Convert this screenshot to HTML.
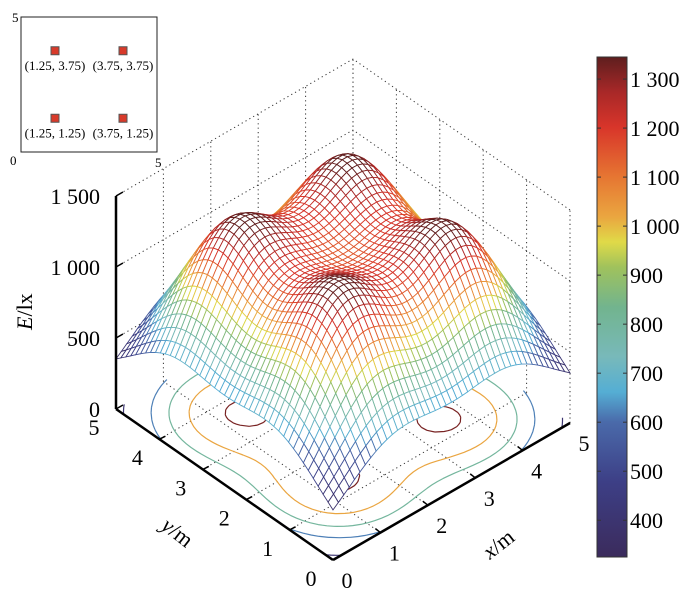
<!DOCTYPE html>
<html><head><meta charset="utf-8"><style>
html,body{margin:0;padding:0;background:#fff;}
svg{display:block;font-family:"Liberation Serif",serif;}
</style></head><body>
<svg id="chart" width="700" height="607" viewBox="0 0 700 607">
<defs>
<linearGradient id="cbgrad" x1="0" y1="1" x2="0" y2="0">
<stop offset="0" stop-color="#3b2b5c"/><stop offset="0.15" stop-color="#3d3f86"/><stop offset="0.27" stop-color="#4a6aaa"/><stop offset="0.33" stop-color="#55aed4"/><stop offset="0.40" stop-color="#78b9ba"/><stop offset="0.50" stop-color="#72b48e"/><stop offset="0.58" stop-color="#a0c25c"/><stop offset="0.63" stop-color="#e0da48"/><stop offset="0.68" stop-color="#eaa640"/><stop offset="0.76" stop-color="#e67632"/><stop offset="0.86" stop-color="#d8352a"/><stop offset="0.93" stop-color="#a82828"/><stop offset="1" stop-color="#5e1e1e"/>
</linearGradient>
</defs>
<g id="floor"></g>
<g id="contours"></g>
<g id="mesh"></g>
<g id="axes"></g>
<g font-size="13">
<rect x="21" y="17" width="136" height="135" fill="none" stroke="#222" stroke-width="1"/>
<text x="12" y="22">5</text>
<text x="10" y="165">0</text>
<text x="155" y="167">5</text>
<g id="lamps"></g>
</g>
<g>
<rect x="597" y="57" width="30" height="500" fill="url(#cbgrad)" stroke="#333" stroke-width="1"/>
<g id="cbticks" font-size="22"></g>
</g>
</svg>
<script>
// Lamp layout data (positions in m) and source parameters
const lampX = [1.25, 3.75, 1.25, 3.75];
const lampY = [3.75, 3.75, 1.25, 1.25];
const lampLabels = ["(1.25, 3.75)", "(3.75, 3.75)", "(1.25, 1.25)", "(3.75, 1.25)"];
const lampIntensity = [4181, 4181, 4181, 4181];
const lampHeight = [2.0];
const lampOrder = [1.5];
const zTicks = [0, 500, 1000, 1500];
const zTickLabels = ["0", "500", "1 000", "1 500"];
const xyTicks = [0, 1, 2, 3, 4, 5];
const cbTicks = [400, 500, 600, 700, 800, 900, 1000, 1100, 1200, 1300];
const cbTickLabels = ["400", "500", "600", "700", "800", "900", "1 000", "1 100", "1 200", "1 300"];
const contourLevels = [400, 620, 800, 1020, 1320];
const cmin = 325, cmax = 1345;
const N = 44;

const NS = "http://www.w3.org/2000/svg";
function mk(tag, attrs, parent){const e=document.createElementNS(NS,tag);for(const k in attrs)e.setAttribute(k,attrs[k]);parent.appendChild(e);return e;}
const O=[333,560], XV=[47.4,-27.4], YV=[-43.4,-30.2], ZS=213/1500;
function P(x,y,z){return [O[0]+x*XV[0]+y*YV[0], O[1]+x*XV[1]+y*YV[1]-z*ZS];}
function E(x,y){let s=0;const h=lampHeight[0],m=lampOrder[0];for(let i=0;i<lampX.length;i++){const d2=(x-lampX[i])**2+(y-lampY[i])**2;s+=lampIntensity[i]*Math.pow(h,m+1)/Math.pow(d2+h*h,(m+3)/2);}return s;}
const cstops=[[0,[59,43,92]],[0.15,[61,63,134]],[0.27,[74,106,170]],[0.33,[85,174,212]],[0.40,[120,185,186]],[0.50,[114,180,142]],[0.58,[160,194,92]],[0.63,[224,218,72]],[0.68,[234,166,64]],[0.76,[230,118,50]],[0.86,[216,53,42]],[0.93,[168,40,40]],[1,[94,30,30]]];
function cmap(v){let t=(v-cmin)/(cmax-cmin);t=Math.max(0,Math.min(1,t));for(let i=1;i<cstops.length;i++){if(t<=cstops[i][0]){const a=cstops[i-1],b=cstops[i];const f=(t-a[0])/(b[0]-a[0]);const c=a[1].map((q,j)=>Math.round(q+(b[1][j]-q)*f));return `rgb(${c})`;}}return 'rgb(94,30,30)';}
function pt(p){return p[0].toFixed(1)+","+p[1].toFixed(1);}

const G=[];for(let i=0;i<=N;i++){G.push([]);for(let j=0;j<=N;j++)G[i].push(E(5*i/N,5*j/N));}

const fl=document.getElementById('floor');
const dot={stroke:"#333","stroke-width":1,"stroke-dasharray":"1.2,3.2",fill:"none"};
function dline(a,b,name){const l=mk('line',Object.assign({x1:a[0],y1:a[1],x2:b[0],y2:b[1]},dot),fl);}
for(const t of xyTicks){
  if(t>0&&t<5){dline(P(t,0,0),P(t,5,0),'floor-grid-x');dline(P(0,t,0),P(5,t,0),'floor-grid-y');}
  dline(P(t,5,0),P(t,5,1500),'wall-grid-x');
  dline(P(5,t,0),P(5,t,1500),'wall-grid-y');
}
for(const z of zTicks){if(z>0){dline(P(0,5,z),P(5,5,z),'wall-grid-z');dline(P(5,0,z),P(5,5,z),'wall-grid-z');}}

const cg=document.getElementById('contours');
for(const lv of contourLevels){
  let d="";
  for(let i=0;i<N;i++)for(let j=0;j<N;j++){
    const c=[[i,j],[i+1,j],[i+1,j+1],[i,j+1]];const pts=[];
    for(let k=0;k<4;k++){const a=c[k],b=c[(k+1)%4];const va=G[a[0]][a[1]],vb=G[b[0]][b[1]];
      if((va-lv)*(vb-lv)<0){const f=(lv-va)/(vb-va);pts.push(P(5*(a[0]+(b[0]-a[0])*f)/N,5*(a[1]+(b[1]-a[1])*f)/N,0));}}
    if(pts.length>=2)d+="M"+pt(pts[0])+"L"+pt(pts[1]);
    if(pts.length===4)d+="M"+pt(pts[2])+"L"+pt(pts[3]);
  }
  const p=mk('path',{d:d,stroke:cmap(lv),"stroke-width":1.2,fill:"none"},cg);
  
  
}

const mg=document.getElementById('mesh');
const quads=[];for(let i=0;i<N;i++)for(let j=0;j<N;j++)quads.push([i,j]);
quads.sort((a,b)=>(b[0]+b[1])-(a[0]+a[1]));
for(const [i,j] of quads){
  const v=(G[i][j]+G[i+1][j]+G[i+1][j+1]+G[i][j+1])/4;
  const ps=[P(5*i/N,5*j/N,G[i][j]),P(5*(i+1)/N,5*j/N,G[i+1][j]),P(5*(i+1)/N,5*(j+1)/N,G[i+1][j+1]),P(5*i/N,5*(j+1)/N,G[i][j+1])];
  const q=mk('polygon',{points:ps.map(pt).join(" "),fill:"#fff",stroke:cmap(v),"stroke-width":0.9},mg);
  
  
}

const ax=document.getElementById('axes');
const sol={stroke:"#000","stroke-width":2.5,fill:"none"};
function sline(a,b,name,w){const l=mk('line',Object.assign({x1:a[0],y1:a[1],x2:b[0],y2:b[1]},sol,w?{"stroke-width":w}:{}),ax);}
sline(P(0,5,0),P(0,0,0),'y-axis-line');
sline(P(0,0,0),P(5,0,0),'x-axis-line');
sline(P(0,5,0),P(0,5,1500),'z-axis-line');
for(const z of zTicks){const a=P(0,5,z);sline(a,[a[0]+7,a[1]-4],'z-tick',1.5);
  const t=mk('text',{x:a[0]-16,y:a[1]+8,"text-anchor":"end","font-size":22},ax);t.textContent=zTickLabels[zTicks.indexOf(z)];
  }
for(const t of xyTicks){
  if(t>0&&t<5){const a=P(t,0,0);sline(a,[a[0]-5,a[1]-4],'x-tick',1.5);const b=P(0,t,0);sline(b,[b[0]+6,b[1]-3],'y-tick',1.5);}
  const a=P(t,0,0);const tx=mk('text',{x:a[0]+14,y:a[1]+28,"text-anchor":"middle","font-size":22},ax);tx.textContent=String(t);
  
  const b=P(0,t,0);const ty=mk('text',{x:b[0]-22,y:b[1]+26,"text-anchor":"middle","font-size":22},ax);ty.textContent=String(t);
  
}
let lab=mk('text',{x:0,y:0,"font-size":22,transform:"translate(32,330) rotate(-90)"},ax);
lab.innerHTML='<tspan font-style="italic">E</tspan>/lx';

lab=mk('text',{x:0,y:0,"font-size":22,transform:"translate(160,528) rotate(38)"},ax);
lab.innerHTML='<tspan font-style="italic">y</tspan>/m';

lab=mk('text',{x:0,y:0,"font-size":22,transform:"translate(490,560) rotate(-38)"},ax);
lab.innerHTML='<tspan font-style="italic">x</tspan>/m';


const lg=document.getElementById('lamps');
for(let i=0;i<lampX.length;i++){
  const px=21+lampX[i]/5*136, py=152-lampY[i]/5*135;
  const r=mk('rect',{x:px-4,y:py-4,width:8,height:8,fill:"#d83a2a",stroke:"#555","stroke-width":1},lg);
  
  const t=mk('text',{x:px,y:py+19,"text-anchor":"middle","font-size":13},lg);t.textContent=lampLabels[i];
  
}

const cb=document.getElementById('cbticks');
for(let k=0;k<cbTicks.length;k++){
  const y=57+(cmax-cbTicks[k])/(cmax-cmin)*500;
  const l1=mk('line',{x1:597,y1:y,x2:601,y2:y,stroke:"#333","stroke-width":1},cb);
  const l2=mk('line',{x1:623,y1:y,x2:627,y2:y,stroke:"#333","stroke-width":1},cb);
  const t=mk('text',{x:630,y:y+8,"font-size":22},cb);t.textContent=cbTickLabels[k];
  
}
</script>
</body></html>
